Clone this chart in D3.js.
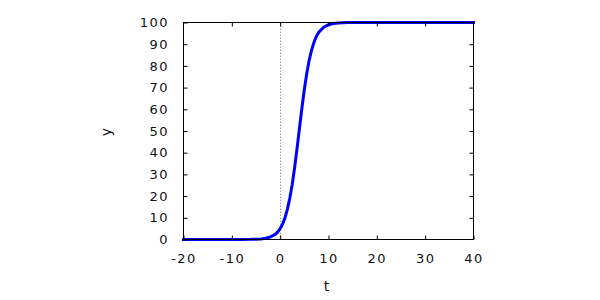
<!doctype html>
<html lang="en">
<head>
<meta charset="UTF-8">
<title>Logistic curve</title>
<style>
  body { margin: 0; background: #fff; }
  text { font-family: "DejaVu Sans", sans-serif; fill: #111; }
</style>
</head>
<body>
<div class="container"></div>

<script src="https://d3js.org/d3.v7.min.js"></script>
<script>
  const SVG_WIDTH = 600;
  const SVG_HEIGHT = 300;

  // values
  const tValues = [-20, -15, -10, -8, -6, -5, -4, -3, -2, -1, -0.5, 0, 0.5, 1, 1.5, 2, 2.5, 3, 3.5,
    4, 4.5, 5, 5.5, 6, 6.5, 7, 7.5, 8, 9, 10, 11, 12, 13, 14, 16, 20, 30, 40];
  const yValues = [0, 0, 0, 0.05, 0.06, 0.12, 0.26, 0.55, 1.2, 2.4, 3.5, 5.0, 7.1, 10.0, 14.0, 19.1, 25.5, 33.3, 42.1,
    51.4, 60.6, 69.1, 76.5, 82.6, 87.3, 90.9, 93.6, 95.5, 97.8, 99.0, 99.5, 99.8, 99.9, 99.95, 99.99, 100, 100, 100];

  const xTicks = [-20, -10, 0, 10, 20, 30, 40];
  const yTicks = [0, 10, 20, 30, 40, 50, 60, 70, 80, 90, 100];

  const data = tValues.map((t, i) => ({ t: t, y: yValues[i] }));

  const LEFT = 183.5, RIGHT = 473.5, TOP = 22.5, BOTTOM = 239.5;

  const svg = d3.select('.container')
    .append('svg')
    .attr('width', SVG_WIDTH)
    .attr('height', SVG_HEIGHT);

  const x = d3.scaleLinear().domain([-20, 40]).range([LEFT, RIGHT]);
  const y = d3.scaleLinear().domain([0, 100]).range([BOTTOM, TOP]);

  // dotted zero axis
  svg.append('line')
    .attr('x1', Math.round(x(0)) + 0.5).attr('x2', Math.round(x(0)) + 0.5)
    .attr('y1', TOP).attr('y2', BOTTOM)
    .attr('stroke', '#a0a0a0')
    .attr('stroke-dasharray', '1.5,1.5');

  // curve
  const line = d3.line()
    .x(d => x(d.t))
    .y(d => y(d.y));

  svg.append('path')
    .datum(data)
    .attr('d', line)
    .attr('fill', 'none')
    .attr('stroke', '#0000ff')
    .attr('stroke-width', 3)
    .attr('stroke-linecap', 'square')
    .attr('stroke-linejoin', 'miter');

  // axes, ticks pointing inward on all sides
  const fmt = d => d;
  svg.append('g')
    .attr('transform', `translate(0, ${BOTTOM})`)
    .call(d3.axisBottom(x).tickValues(xTicks).tickFormat(fmt).tickSizeInner(-4).tickSizeOuter(0).tickPadding(14));
  svg.append('g')
    .attr('transform', `translate(0, ${TOP})`)
    .call(d3.axisTop(x).tickValues(xTicks.slice(1, -1)).tickFormat('').tickSizeInner(-4).tickSizeOuter(0));
  svg.append('g')
    .attr('transform', `translate(${LEFT}, 0)`)
    .call(d3.axisLeft(y).tickValues(yTicks).tickFormat(fmt).tickSizeInner(-4).tickSizeOuter(0).tickPadding(14.5));
  svg.append('g')
    .attr('transform', `translate(${RIGHT}, 0)`)
    .call(d3.axisRight(y).tickValues(yTicks.slice(1, -1)).tickFormat('').tickSizeInner(-4).tickSizeOuter(0));

  svg.selectAll('.domain').remove();
  svg.selectAll('.tick line').attr('stroke', '#000');
  svg.selectAll('.tick text')
    .attr('fill', '#111')
    .style('font-family', '"DejaVu Sans", sans-serif')
    .style('font-size', '13px')
    .style('letter-spacing', '1.5px');

  // frame on top of the curve
  svg.append('rect')
    .attr('x', LEFT).attr('y', TOP)
    .attr('width', RIGHT - LEFT).attr('height', BOTTOM - TOP)
    .attr('fill', 'none')
    .attr('stroke', '#000')
    .attr('stroke-width', 1);

  // axis titles
  svg.append('text')
    .attr('x', (LEFT + RIGHT) / 2 - 2)
    .attr('y', 290.5)
    .attr('text-anchor', 'middle')
    .style('font-size', '14px')
    .text('t');

  svg.append('text')
    .attr('transform', `translate(110.5, ${(TOP + BOTTOM) / 2 + 1}) rotate(-90)`)
    .attr('text-anchor', 'middle')
    .style('font-size', '14px')
    .text('y');
</script>
</body>
</html>
